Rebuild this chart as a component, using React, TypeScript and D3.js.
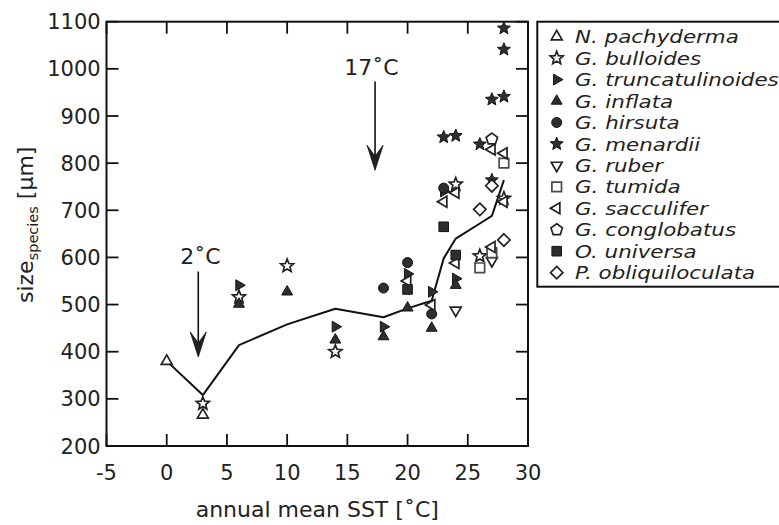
import React from "react";
import * as d3 from "d3";

const W = 779;
const H = 525;

const xTicks = [-5, 0, 5, 10, 15, 20, 25, 30];
const yTicks = [200, 300, 400, 500, 600, 700, 800, 900, 1000, 1100];

// mean size curve
const lineTemps = [0, 3, 6, 10, 14, 18, 20, 22, 23, 24, 26, 27, 28];
const lineSizes = [380, 308, 414, 458, 491, 473, 492, 508, 598, 640, 672, 688, 764];

// species data: [SST, size]
const nPachyderma = [[0, 380], [3, 266]];
const gBulloides = [[3, 290], [6, 516], [10, 582], [14, 400], [24, 755], [26, 603], [28, 725]];
const gTruncatulinoides = [[6, 541], [14, 453], [18, 453], [20, 565], [22, 527], [23, 740], [24, 555]];
const gInflata = [[6, 501], [10, 527], [14, 425], [18, 432], [20, 493], [22, 450], [24, 541]];
const gHirsuta = [[18, 535], [20, 589], [22, 480], [23, 747]];
const gMenardii = [[23, 855], [24, 858], [26, 840], [27, 935], [27, 764], [28, 941], [28, 1041], [28, 1086]];
const gRuber = [[24, 488], [27, 593]];
const gTumida = [[26, 578], [27, 610], [28, 800]];
const gSacculifer = [[20, 550], [22, 499], [23, 718], [24, 588], [24, 737], [27, 622], [27, 829], [28, 821], [28, 718]];
const gConglobatus = [[27, 851]];
const oUniversa = [[20, 532], [23, 665], [24, 605]];
const pObliquiloculata = [[26, 702], [27, 752], [28, 637]];

const speciesNames = [
  "N. pachyderma",
  "G. bulloides",
  "G. truncatulinoides",
  "G. inflata",
  "G. hirsuta",
  "G. menardii",
  "G. ruber",
  "G. tumida",
  "G. sacculifer",
  "G. conglobatus",
  "O. universa",
  "P. obliquiloculata",
];
const speciesData = [
  nPachyderma, gBulloides, gTruncatulinoides, gInflata, gHirsuta, gMenardii,
  gRuber, gTumida, gSacculifer, gConglobatus, oUniversa, pObliquiloculata,
];
const speciesShape = [
  "triUp", "star", "triRight", "triUp", "circle", "star",
  "triDown", "square", "triLeft", "pentagon", "square", "diamond",
];
const speciesFilled = [false, false, true, true, true, true, false, false, false, false, true, false];

// annotations
const annotTemps = [17.0, 2.8];
const annotArrowTemps = [17.3, 2.62];
const annotLabels = ["17˚C", "2˚C"];
const annotTextSize = [987, 585];
const annotArrowStart = [973, 570];
const annotArrowTip = [785, 389];

const FONT = "'DejaVu Sans', sans-serif";
const INK = "#222";

function polygon(n: number, r: number, rot: number): string {
  const pts: [number, number][] = [];
  for (let i = 0; i < n; i++) {
    const a = rot + (i * 2 * Math.PI) / n;
    pts.push([r * Math.cos(a), r * Math.sin(a)]);
  }
  return "M" + pts.map((p) => p[0].toFixed(2) + "," + p[1].toFixed(2)).join("L") + "Z";
}

function starPath(ro: number, ri: number): string {
  const pts: [number, number][] = [];
  for (let i = 0; i < 10; i++) {
    const r = i % 2 === 0 ? ro : ri;
    const a = -Math.PI / 2 + (i * Math.PI) / 5;
    pts.push([r * Math.cos(a), r * Math.sin(a)]);
  }
  return "M" + pts.map((p) => p[0].toFixed(2) + "," + p[1].toFixed(2)).join("L") + "Z";
}

function markerPath(kind: string): string {
  switch (kind) {
    case "triUp":
      return polygon(3, 6.3, -Math.PI / 2);
    case "triDown":
      return polygon(3, 6.3, Math.PI / 2);
    case "triRight":
      return polygon(3, 6.3, 0);
    case "triLeft":
      return polygon(3, 6.3, Math.PI);
    case "star":
      return starPath(6.8, 3.0);
    case "circle":
      return "M5,0A5,5 0 1,1 -5,0A5,5 0 1,1 5,0Z";
    case "square":
      return "M-4.8,-4.8H4.8V4.8H-4.8Z";
    case "diamond":
      return polygon(4, 6.2, -Math.PI / 2);
    case "pentagon":
      return polygon(5, 6.0, -Math.PI / 2);
    default:
      return "";
  }
}

function Marker({ kind, filled, x, y }: { kind: string; filled: boolean; x: number; y: number }) {
  return (
    <path
      d={markerPath(kind)}
      transform={`translate(${x},${y})`}
      fill={filled ? "#2e2e2e" : "#fff"}
      stroke={filled ? "#151515" : kind === "square" ? "#4a4a4a" : INK}
      strokeWidth={filled ? 1 : 1.7}
      strokeLinejoin="miter"
    />
  );
}

export default function App() {
  const left = 106.5, right = 528, top = 21.7, bottom = 446;
  const x = d3.scaleLinear().domain([-5, 30]).range([left, right]);
  const y = d3.scaleLinear().domain([200, 1100]).range([bottom, top]);
  const line = d3
    .line<number>()
    .x((_, i) => x(lineTemps[i]))
    .y((d) => y(d));
  const tickLen = 12;

  const legendX = 537.3, legendY = 21.7, rowH = 21.45;

  return (
    <svg
      width={W}
      height={H}
      viewBox={`0 0 ${W} ${H}`}
      style={{ position: "absolute", left: 0, top: 0, display: "block", background: "#fff" }}
      fontFamily={FONT}
    >
      <rect x={0} y={0} width={W} height={H} fill="#fff" />
      {/* ticks */}
      {xTicks.map((t) => (
        <g key={"xt" + t}>
          <line x1={x(t)} x2={x(t)} y1={bottom} y2={bottom - tickLen} stroke="#111" strokeWidth={1.8} />
          <line x1={x(t)} x2={x(t)} y1={top} y2={top + tickLen} stroke="#111" strokeWidth={1.8} />
          <text x={x(t)} y={480} textAnchor="middle" fontSize={21} fill={INK}>
            {t}
          </text>
        </g>
      ))}
      {yTicks.map((t) => (
        <g key={"yt" + t}>
          <line x1={left} x2={left + tickLen} y1={y(t)} y2={y(t)} stroke="#111" strokeWidth={1.8} />
          <line x1={right} x2={right - tickLen} y1={y(t)} y2={y(t)} stroke="#111" strokeWidth={1.8} />
          <text x={100.7} y={y(t) + 7.6} textAnchor="end" fontSize={21} fill={INK}>
            {t}
          </text>
        </g>
      ))}
      {/* frame */}
      <rect x={left} y={top} width={right - left} height={bottom - top} fill="none" stroke="#111" strokeWidth={2} />

      {/* axis titles */}
      <text x={(left + right) / 2} y={517.3} textAnchor="middle" fontSize={22} fill={INK}>
        annual mean SST [˚C]
      </text>
      <text transform="translate(32.5,303) rotate(-90)" fontSize={22} fill={INK}>
        size
        <tspan fontSize={14.5} dy={5}>species</tspan>
        <tspan dy={-5}> [µm]</tspan>
      </text>

      {/* annotations */}
      {annotLabels.map((lab, i) => {
        const ax = x(annotArrowTemps[i]);
        const y0 = y(annotArrowStart[i]);
        const tip = y(annotArrowTip[i]);
        return (
          <g key={"an" + i}>
            <text x={x(annotTemps[i])} y={y(annotTextSize[i])} textAnchor="middle" fontSize={22} fill={INK}>
              {lab}
            </text>
            <line x1={ax} x2={ax} y1={y0} y2={tip - 10} stroke="#111" strokeWidth={1.6} />
            <path
              d={`M${ax},${tip}L${ax - 8},${tip - 25}L${ax},${tip - 14}L${ax + 8},${tip - 25}Z`}
              fill="#222"
              stroke="#111"
              strokeWidth={0.8}
            />
          </g>
        );
      })}

      {/* mean line */}
      <path d={line(lineSizes) || ""} fill="none" stroke="#111" strokeWidth={2} strokeLinejoin="round" />

      {/* markers */}
      {speciesData.map((series, si) =>
        series.map((p, pi) => (
          <Marker
            key={si + "-" + pi}
            kind={speciesShape[si]}
            filled={speciesFilled[si]}
            x={x(p[0])}
            y={y(p[1])}
          />
        ))
      )}

      {/* legend */}
      <rect x={legendX} y={legendY} width={270} height={265} fill="#fff" stroke="#111" strokeWidth={2} />
      {speciesNames.map((name, i) => {
        const base = 43.3 + i * rowH;
        return (
          <g key={"lg" + i}>
            <Marker kind={speciesShape[i]} filled={speciesFilled[i]} x={556.7} y={base - 6.6} />
            <text
              transform={`translate(575,${base}) scale(1.17,1)`}
              fontSize={18.3}
              fontStyle="italic"
              fill={INK}
            >
              {name}
            </text>
          </g>
        );
      })}
    </svg>
  );
}
